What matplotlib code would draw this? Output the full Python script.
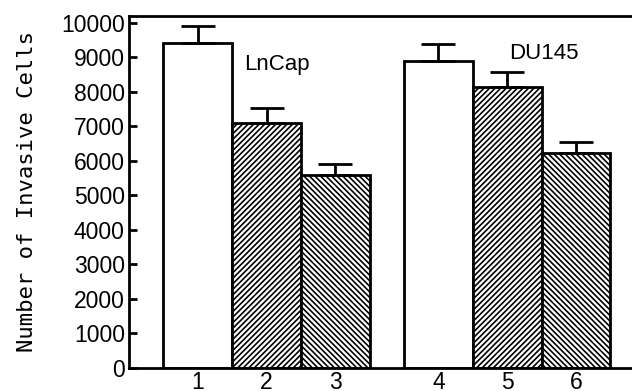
import numpy as np
import matplotlib
matplotlib.use("Agg")
import matplotlib.pyplot as plt

# Bar data
labels = ["1", "2", "3", "4", "5", "6"]
positions = [0, 1, 2, 3.5, 4.5, 5.5]
values = [9410, 7100, 5590, 8900, 8140, 6230]
errors = [490, 440, 320, 490, 440, 320]
hatches = ["", "//////", "\\\\\\\\\\\\", "", "//////", "\\\\\\\\\\\\"]

plt.rcParams["hatch.linewidth"] = 1.2
fig = plt.figure(figsize=(6.32, 3.91), dpi=100)
ax = fig.add_axes([0.204, 0.059, 0.8, 0.9])

for x, v, e, h in zip(positions, values, errors, hatches):
    ax.bar(x, v, width=1.0, color="white", edgecolor="black", linewidth=2, hatch=h, zorder=2)
    ax.errorbar(x, v, yerr=[[0], [e]], fmt="none", ecolor="black", elinewidth=2,
                capsize=12, capthick=2, zorder=3)

ax.text(0.68, 8800, "LnCap", fontsize=16, family=["Liberation Sans", "DejaVu Sans"], va="center")
ax.text(4.53, 9100, "DU145", fontsize=16, family=["Liberation Sans", "DejaVu Sans"], va="center")

ax.set_xlim(-1.0, 6.35)
ax.set_ylim(0, 10190)
ax.set_yticks(np.arange(0, 10001, 1000))
ax.set_xticks(positions)
ax.set_xticklabels(labels)
ax.tick_params(axis="x", length=0, pad=2)
ax.tick_params(axis="y", direction="in", length=6, width=2, pad=3)
for lab in ax.get_xticklabels() + ax.get_yticklabels():
    lab.set_fontsize(16.5)
    lab.set_family(["Liberation Sans", "DejaVu Sans"])

ax.set_ylabel("Number of Invasive Cells", fontsize=16, family=["DejaVu Sans Mono"], labelpad=17)
ax.spines["right"].set_visible(False)
for s in ["left", "bottom", "top"]:
    ax.spines[s].set_linewidth(2)

fig.savefig("out.png", dpi=100)
